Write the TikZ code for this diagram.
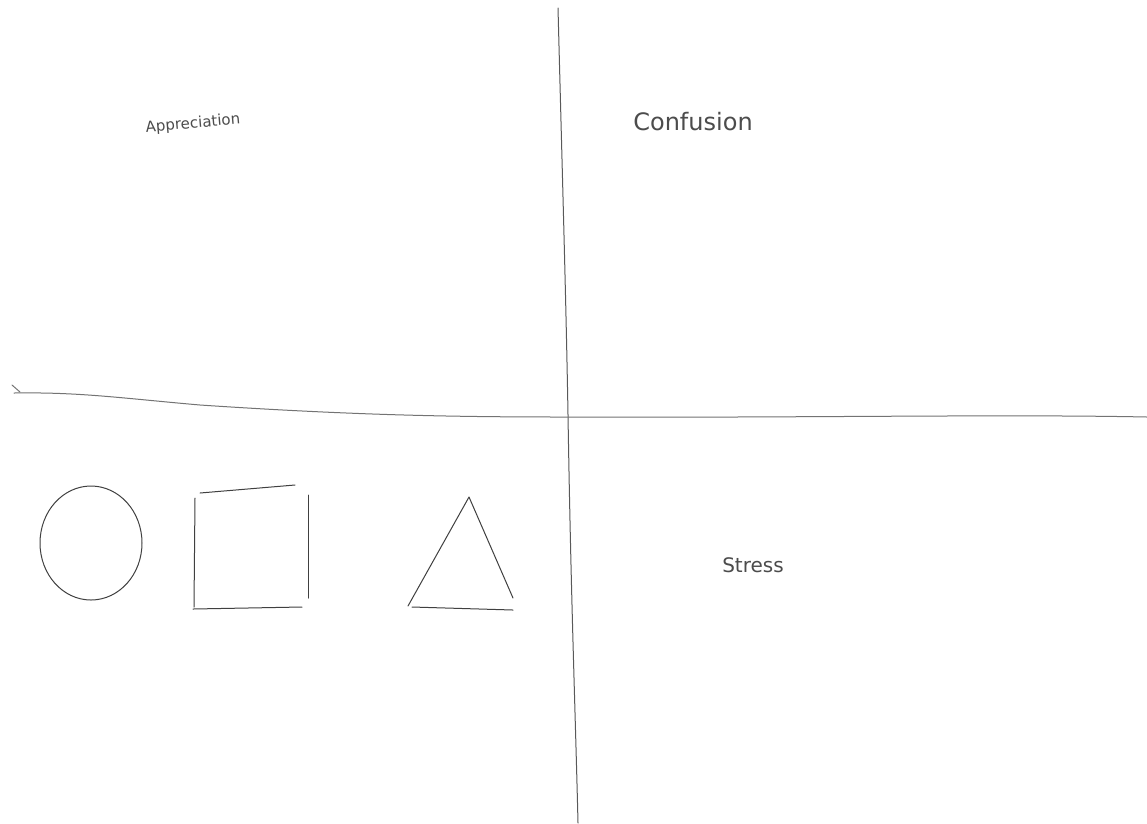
\documentclass[tikz,border=0pt]{standalone}
\usepackage{fontspec}
\usetikzlibrary{shapes.geometric}
\setmainfont{DejaVu Sans}
\begin{document}
\begin{tikzpicture}[x=1pt,y=-1pt,
  pen/.style={draw=black!75,line width=1pt,line cap=round,line join=round},
  hand/.style={text=black!70,inner sep=0pt,font=\fontsize{#1}{#1}\selectfont},
  hand/.default=14]
\useasboundingbox[fill=white] (0,0) rectangle (1147,823);
% axes
\coordinate (vt) at (558,8);
\coordinate (vm) at (568,415);
\coordinate (vb) at (578,823);
\draw[pen,draw=black!65] (vt) .. controls (563,200) and (566,300) .. (vm) .. controls (571,600) and (575,700) .. (vb);
\coordinate (hl) at (14,393);
\coordinate (hm) at (565,417);
\coordinate (hr) at (1147,417);
\coordinate (hk) at (12,385);
\draw[pen,draw=black!55] (hk) -- (20,392);
\draw[pen,draw=black!55] (hl) .. controls (80,392) and (120,398) .. (200,405) .. controls (350,415) and (450,417) .. (hm) .. controls (800,418) and (1000,414) .. (hr);
% labels
\node[hand=15,rotate=5] (appr) at (193,124) {Appreciation};
\node[hand=24] (conf) at (693,122) {Confusion};
\node[hand=20] (stress) at (753,565) {Stress};
% circle
\node[pen,ellipse,minimum width=102pt,minimum height=114pt,inner sep=0pt] (circ) at (91,543) {};
% square
\coordinate (s1) at (200,493);
\coordinate (s2) at (295,485);
\coordinate (s3) at (308,495);
\coordinate (s4) at (308,598);
\coordinate (s5) at (302,607);
\coordinate (s6) at (193,609);
\coordinate (s7) at (195,498);
\draw[pen] (s1) -- (s2);
\draw[pen] (s3) -- (s4);
\draw[pen] (s6) -- (s5);
\draw[pen] (s7) -- (194,607);
% triangle
\coordinate (ta) at (469,497);
\coordinate (tl) at (408,606);
\coordinate (tr) at (513,598);
\draw[pen] (tl) -- (ta) -- (tr);
\draw[pen] (412,607) -- (513,610);
\end{tikzpicture}
\end{document}
